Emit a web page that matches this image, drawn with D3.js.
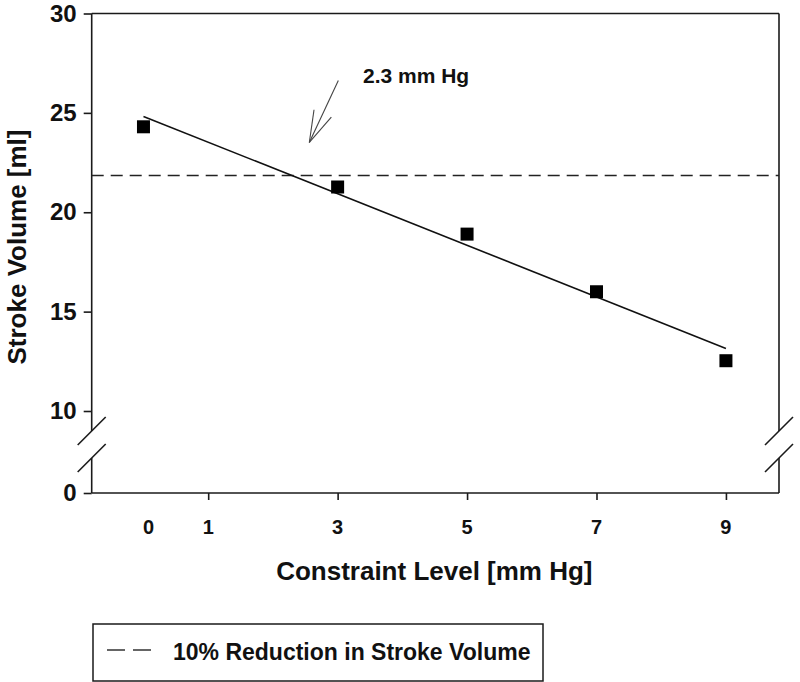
<!DOCTYPE html>
<html>
<head>
<meta charset="utf-8">
<script src="https://cdn.jsdelivr.net/npm/d3@7/dist/d3.min.js"></script>
<style>
  html, body { margin: 0; padding: 0; background: #fff; }
  svg { display: block; }
  text { font-family: "Liberation Sans", Arial, sans-serif; font-weight: bold; fill: #111; }
</style>
</head>
<body>
<svg id="chart" width="800" height="682"></svg>
<script>
// ---- data ----
const constraintLevels = [0, 3, 5, 7, 9];            // mm Hg
const strokeVolumes    = [24.3, 21.27, 18.9, 16.0, 12.53]; // ml
const fitX = [0, 9];                                   // regression line end points
const fitY = [24.82, 13.15];
const thresholdSV = 21.85;                             // 10% reduction in stroke volume
const crossing = 2.3;                                  // mm Hg, annotated
const xTickValues = [1, 3, 5, 7, 9];
const xTickLabels = ["0", "1", "3", "5", "7", "9"];
const xLabelValues = [0, 1, 3, 5, 7, 9];
const yTickUpper = [10, 15, 20, 25, 30];
const yTickLower = [0];
const legendLabel = "10% Reduction in Stroke Volume";
const annotationText = "2.3 mm Hg";
const xTitle = "Constraint Level [mm Hg]";
const yTitle = "Stroke Volume [ml]";

// ---- layout ----
const svg = d3.select("#chart");
const L = 91.7, R = 779, T = 13.5, B = 493;
const breakTop = 431, breakBot = 458;

const x = d3.scaleLinear().domain([-0.8, 9.82]).range([L, R]);
const y = d3.scaleLinear().domain([10, 30]).range([411, T]);
const yLow = d3.scaleLinear().domain([0, 10]).range([B, B - 82]);

const ink = "#1a1a1a";

// frame: top, bottom, and left/right with breaks
const frame = svg.append("g").attr("stroke", ink).attr("stroke-width", 1.6).attr("fill", "none");
frame.append("line").attr("x1", L).attr("x2", R).attr("y1", T).attr("y2", T);
frame.append("line").attr("x1", L).attr("x2", R).attr("y1", B).attr("y2", B);
[L, R].forEach(xx => {
  frame.append("line").attr("x1", xx).attr("x2", xx).attr("y1", T).attr("y2", breakTop);
  frame.append("line").attr("x1", xx).attr("x2", xx).attr("y1", breakBot).attr("y2", B);
  [breakTop, breakBot].forEach(yy => {
    frame.append("line")
      .attr("x1", xx - 14).attr("y1", yy + 14)
      .attr("x2", xx + 14).attr("y2", yy - 14);
  });
});

// y axis ticks + labels (upper segment)
const yAxisG = svg.append("g").attr("transform", `translate(${L},0)`)
  .call(d3.axisLeft(y).tickValues(yTickUpper).tickSize(8).tickPadding(7).tickFormat(d3.format("d")));
const yAxisLow = svg.append("g").attr("transform", `translate(${L},0)`)
  .call(d3.axisLeft(yLow).tickValues(yTickLower).tickSize(8).tickPadding(7).tickFormat(d3.format("d")));
[yAxisG, yAxisLow].forEach(g => {
  g.select(".domain").remove();
  g.selectAll(".tick line").attr("stroke", ink).attr("stroke-width", 1.6);
  g.selectAll(".tick text").attr("font-size", 24).attr("font-family", "Liberation Sans, Arial, sans-serif")
    .attr("font-weight", "bold").attr("fill", "#111");
});

// x axis ticks
const xAxisG = svg.append("g").attr("transform", `translate(0,${B})`)
  .call(d3.axisBottom(x).tickValues(xTickValues).tickSize(7).tickFormat(""));
xAxisG.select(".domain").remove();
xAxisG.selectAll(".tick line").attr("stroke", ink).attr("stroke-width", 1.6);

// x labels
svg.append("g").selectAll("text").data(xLabelValues).join("text")
  .attr("x", (d, i) => x(d) + (d === 0 ? 5 : 0))
  .attr("y", 534)
  .attr("text-anchor", "middle")
  .attr("font-size", 20)
  .text((d, i) => xTickLabels[i]);

// axis titles
svg.append("text")
  .attr("x", (L + R) / 2 - 1).attr("y", 580)
  .attr("text-anchor", "middle").attr("font-size", 26)
  .text(xTitle);
svg.append("text")
  .attr("transform", "translate(26,247) rotate(-90)")
  .attr("text-anchor", "middle").attr("font-size", 26)
  .text(yTitle);

// dashed threshold line
svg.append("line")
  .attr("x1", L).attr("x2", R)
  .attr("y1", y(thresholdSV)).attr("y2", y(thresholdSV))
  .attr("stroke", "#222").attr("stroke-width", 1.5)
  .attr("stroke-dasharray", "12,7");

// regression line
svg.append("path")
  .datum(fitX.map((d, i) => [d, fitY[i]]))
  .attr("d", d3.line().x(d => x(d[0])).y(d => y(d[1])))
  .attr("fill", "none").attr("stroke", "#111").attr("stroke-width", 1.6);

// data markers
const sz = 13;
svg.append("g").selectAll("rect")
  .data(constraintLevels.map((d, i) => [d, strokeVolumes[i]]))
  .join("rect")
  .attr("x", d => x(d[0]) - sz / 2).attr("y", d => y(d[1]) - sz / 2)
  .attr("width", sz).attr("height", sz)
  .attr("fill", "#000");

// annotation arrow pointing toward crossing
const tipX = x(crossing) + 17, tipY = y(thresholdSV) - 33;
const tailX = tipX + 29, tailY = tipY - 62;
const arrow = svg.append("g").attr("stroke", "#444").attr("stroke-width", 1.1).attr("fill", "none");
arrow.append("line").attr("x1", tailX).attr("y1", tailY).attr("x2", tipX).attr("y2", tipY);
arrow.append("line").attr("x1", tipX).attr("y1", tipY).attr("x2", tipX + 4.7).attr("y2", tipY - 32.7);
arrow.append("line").attr("x1", tipX).attr("y1", tipY).attr("x2", tipX + 22).attr("y2", tipY - 25.4);
svg.append("text")
  .attr("x", 363).attr("y", 83)
  .attr("font-size", 21)
  .text(annotationText);

// legend
const lg = svg.append("g");
lg.append("rect").attr("x", 93).attr("y", 624).attr("width", 450).attr("height", 57)
  .attr("fill", "#fff").attr("stroke", ink).attr("stroke-width", 1.5);
lg.append("line").attr("x1", 107).attr("x2", 152).attr("y1", 650).attr("y2", 650)
  .attr("stroke", "#333").attr("stroke-width", 1.5).attr("stroke-dasharray", "18,8");
lg.append("text").attr("x", 173).attr("y", 660).attr("font-size", 23).text(legendLabel);
</script>
</body>
</html>
